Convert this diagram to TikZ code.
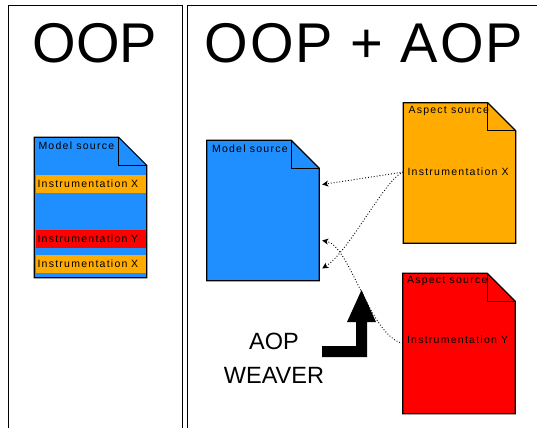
\documentclass[tikz,border=0pt]{standalone}
\usepackage{fontspec}
\setmainfont{Liberation Sans}
\newfontfamily\tagfont[LetterSpace=12]{Liberation Sans}
\newfontfamily\widefont[LetterSpace=3.5]{Liberation Sans}
\usepackage{xcolor}
\definecolor{dodgerblue}{rgb}{0.12, 0.56, 1.0}
\definecolor{amber}{rgb}{1.0, 0.67, 0.0}
\definecolor{brightred}{rgb}{1.0, 0.0, 0.0}
\usepackage{tikz}
\usetikzlibrary{arrows.meta,positioning,calc}
\tikzset{
  >={Stealth[length=6pt,width=6pt,inset=1.5pt]},
  panel/.style={draw,line width=1pt},
  title/.style={font=\fontsize{56}{60}\selectfont,inner sep=0pt},
  docbox/.style={minimum width=112pt,minimum height=140pt,inner sep=0pt},
  tag/.style={font=\tagfont\fontsize{10.5}{12}\selectfont,text=black,inner sep=0pt},
  band/.style={tag,minimum height=17.5pt,text width=107pt,inner xsep=1.5pt,align=left},
  weave/.style={->,dotted,line width=0.9pt},
  weaver/.style={font=\fontsize{23.5}{34}\selectfont,align=center,inner sep=0pt}
}
% sheet with a folded corner
\newcommand{\dogear}[2]{%
  \filldraw[fill=#2,line width=1.2pt] (#1.north west) -- ([xshift=-28pt]#1.north east)
    -- ([yshift=-28pt]#1.north east) -- (#1.south east) -- (#1.south west) -- cycle;
  \draw[line width=1.2pt] ([xshift=-28pt]#1.north east) |- ([yshift=-28pt]#1.north east);
}

\begin{document}
\begin{tikzpicture}[x=1pt,y=-1pt]
  \useasboundingbox (0,0) rectangle (537,428);

  % Panels
  \draw[panel] (8,428) -- (8,6) -- (182,6) -- (182,428);
  \draw[panel] (187,428) -- (187,6) -- (537,6);
  \node[title] (oop) at (95,43) {OOP};
  \node[title,font=\widefont\fontsize{56}{60}\selectfont] (oopaop) at (364,43) {OOP + AOP};

  % Tangled source
  \node[docbox] (tangled) at (90.5,207.5) {};
  \dogear{tangled}{dodgerblue}
  \node[tag,anchor=base west] at ([xshift=4pt,yshift=-12pt]tangled.north west) {Model source};
  \node[band,fill=amber] (bandx) at (91,184) {Instrumentation X};
  \node[band,fill=brightred] (bandy) at (91,239) {Instrumentation Y};
  \node[band,fill=amber] (bandxx) at (91,264) {Instrumentation X};

  % Woven sources
  \node[docbox] (model) at (263,210.5) {};
  \node[docbox] (aspx) at (459.5,173) {};
  \node[docbox] (aspy) at (459,343.5) {};
  \dogear{model}{dodgerblue}
  \dogear{aspx}{amber}
  \dogear{aspy}{brightred}
  \node[tag,anchor=base west] at ([xshift=5pt,yshift=-12pt]model.north west) {Model source};
  \node[tag,anchor=base west] at ([xshift=5pt,yshift=-11pt]aspx.north west) {Aspect source};
  \node[tag,anchor=base west] at ([xshift=4pt,yshift=-10.5pt]aspy.north west) {Aspect source};
  \node[tag,anchor=base west,inner xsep=4pt] (instrx) at ([yshift=-73pt]aspx.north west) {Instrumentation X};
  \node[tag,anchor=base west,inner xsep=4pt] (instry) at ([yshift=-70pt]aspy.north west) {Instrumentation Y};

  % Weaver
  \node[weaver] (weave) at (274,358) {AOP\\WEAVER};
  \fill (322,346) -- (356,346) -- (356,322) -- (347,322) -- (361.5,290)
    -- (376,322) -- (367,322) -- (367,357) -- (322,357) -- cycle;

  % Join points
  \coordinate (inA) at ([xshift=3pt,yshift=26pt]model.east);
  \coordinate (inB) at ([xshift=3pt,yshift=-30pt]model.east);
  \coordinate (inC) at ([xshift=3pt,yshift=-58pt]model.east);
  \draw[weave] (instrx.west) -- (inA);
  \draw[weave] (instrx.west) .. controls +(-18,6) and +(28,-18) .. (inC);
  \draw[weave] (instry.base west) .. controls +(-33,-7) and +(28,5) .. (inB);
\end{tikzpicture}
\end{document}
